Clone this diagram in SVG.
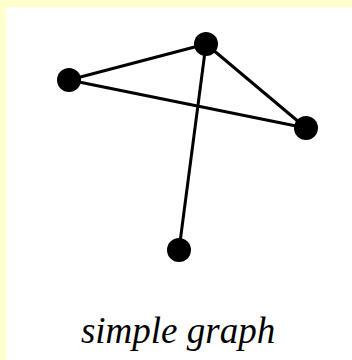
<svg xmlns="http://www.w3.org/2000/svg" width="352" height="360" viewBox="0 0 352 360">
<style>
.edge{stroke:#000;stroke-width:3;fill:none}
.node{fill:#000}
.label{font-family:"Liberation Serif",serif;font-style:italic;font-size:37px;fill:#000}
</style>
<rect x="0" y="0" width="352" height="360" fill="#FFFFCC"/>
<rect x="6" y="7" width="346" height="353" fill="#FFFFFF"/>
<g id="connectors">
<line class="edge" x1="69" y1="80" x2="206" y2="44"/>
<line class="edge" x1="69" y1="80" x2="306" y2="128"/>
<line class="edge" x1="206" y1="44" x2="306" y2="128"/>
<line class="edge" x1="206" y1="44" x2="179" y2="250"/>
</g>
<g id="n1"><circle class="node" cx="69" cy="80" r="12"/></g>
<g id="n2"><circle class="node" cx="206" cy="44" r="12"/></g>
<g id="n3"><circle class="node" cx="306" cy="128" r="12"/></g>
<g id="n4"><circle class="node" cx="179" cy="250" r="12"/></g>
<text class="label" x="178" y="343" text-anchor="middle">simple graph</text>
</svg>
